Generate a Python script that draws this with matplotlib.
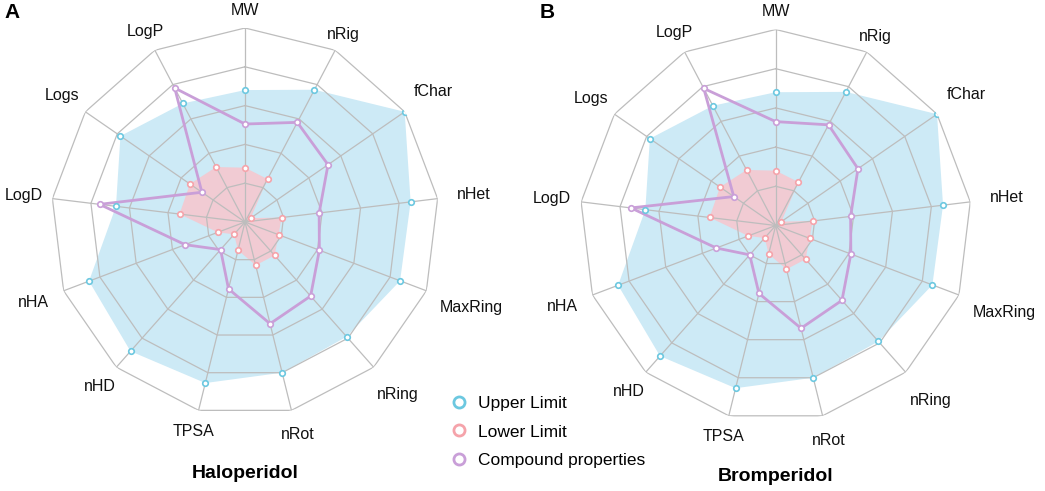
import numpy as np
import matplotlib.pyplot as plt
from matplotlib.lines import Line2D

plt.rcParams['font.family'] = ['Liberation Sans', 'DejaVu Sans']

# axis names, clockwise from the top
names = ['MW', 'nRig', 'fChar', 'nHet', 'MaxRing', 'nRing', 'nRot',
         'TPSA', 'nHD', 'nHA', 'LogD', 'Logs', 'LogP']

# scaled values (0..1)
upper = [0.68, 0.77, 1.0, 0.86, 0.855, 0.79, 0.80, 0.855, 0.89, 0.86, 0.67, 0.78, 0.69]
lower = [0.28, 0.25, 0.035, 0.19, 0.185, 0.23, 0.23, 0.15, 0.085, 0.15, 0.34, 0.345, 0.32]
halo = [0.505, 0.58, 0.52, 0.385, 0.41, 0.51, 0.54, 0.355, 0.19, 0.33, 0.755, 0.27, 0.78]
brom = [0.53, 0.58, 0.51, 0.385, 0.41, 0.51, 0.54, 0.357, 0.20, 0.324, 0.744, 0.26, 0.79]

compounds = ['Haloperidol', 'Bromperidol']
panels = ['A', 'B']

# label distance from centre (fraction of outer radius)
label_r = [1.09, 1.09, 1.18, 1.19, 1.25, 1.19, 1.13, 1.11, 1.13, 1.165, 1.15, 1.145, 1.11]

c_up_fill, c_up_edge = '#cdeaf6', '#6cc8e0'
c_lo_fill, c_lo_edge = '#f1cbd3', '#f5a3aa'
c_cp = '#c99fd8'
c_grid = '#bdbdbd'

n = len(names)
ang = np.linspace(0, 2*np.pi, n, endpoint=False)
angc = np.append(ang, ang[0])


def close(v):
    return np.append(v, v[0])


def radar(ax, comp):
    ax.set_theta_zero_location('N')
    ax.set_theta_direction(-1)
    ax.set_ylim(0, 1)
    ax.grid(False)
    ax.set_xticks([])
    ax.set_yticks([])
    ax.spines['polar'].set_visible(False)

    ax.fill(angc, close(upper), color=c_up_fill, zorder=1, lw=0)
    ax.fill(angc, close(lower), color=c_lo_fill, zorder=2, lw=0)

    for r in np.arange(0.2, 1.01, 0.2):
        ax.plot(angc, [r]*(n+1), color=c_grid, lw=0.9, zorder=3)
    for a in ang:
        ax.plot([a, a], [0, 1], color=c_grid, lw=0.9, zorder=3)

    ax.plot(angc, close(comp), color=c_cp, lw=2, zorder=4)
    ax.plot(ang, upper, 'o', ms=4, mfc='white', mec=c_up_edge, mew=1.2, zorder=5)
    ax.plot(ang, lower, 'o', ms=4, mfc='white', mec=c_lo_edge, mew=1.2, zorder=5)
    ax.plot(ang, comp, 'o', ms=4, mfc='white', mec=c_cp, mew=1.2, zorder=5)

    for a, name, r in zip(ang, names, label_r):
        ax.text(a, r, name, ha='center', va='center', fontsize=11.5,
                color='#111111', clip_on=False)


fig = plt.figure(figsize=(10.45, 4.91), dpi=100)

# centre (px) and outer radius (px) of each radar
geo = [(245, 222, 194), (775.7, 225.5, 196)]
for i, comp in enumerate([halo, brom]):
    cx, cy, R = geo[i]
    ax = fig.add_axes([(cx-R)/1045, (491-cy-R)/491, 2*R/1045, 2*R/491],
                      projection='polar')
    radar(ax, comp)
    fig.text(cx/1045, 1-(cy+251)/491, compounds[i], ha='center', va='center',
             fontsize=14, fontweight='bold')

fig.text(4/1045, 1-12/491, panels[0], ha='left', va='center',
         fontsize=15, fontweight='bold')
fig.text(540/1045, 1-12/491, panels[1], ha='left', va='center',
         fontsize=15, fontweight='bold')

handles = [Line2D([], [], marker='o', ls='none', ms=8, mfc='white', mec=c, mew=2)
           for c in [c_up_edge, c_lo_edge, c_cp]]
fig.legend(handles, ['Upper Limit', 'Lower Limit', 'Compound properties'],
           loc='upper left', bbox_to_anchor=(440/1045, 1-387/491), frameon=False,
           fontsize=12.5, labelspacing=0.78, handletextpad=0.5, borderpad=0,
           handlelength=1.2)

fig.savefig('out.png', dpi=100)
